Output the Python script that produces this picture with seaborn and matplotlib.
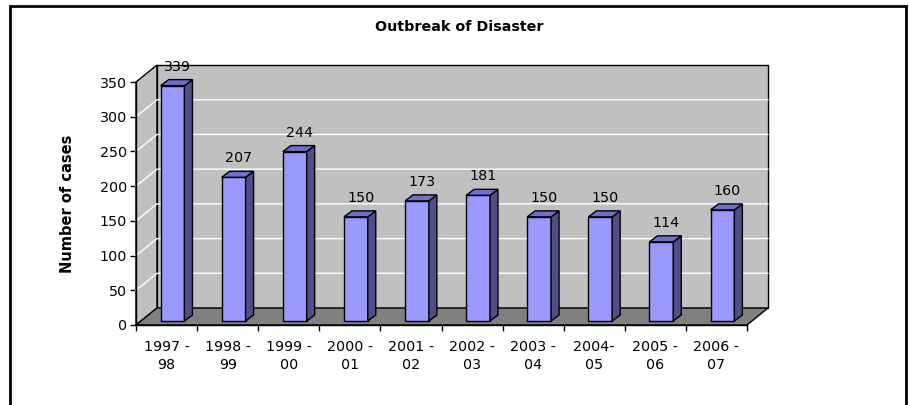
import numpy as np
import pandas as pd
import matplotlib
matplotlib.use("Agg")
import matplotlib.pyplot as plt
import matplotlib.transforms as mtransforms
from matplotlib.patches import Polygon, Rectangle
import seaborn as sns

# ---- data ----
periods = ["1997 -\n98", "1998 -\n99", "1999 -\n00", "2000 -\n01", "2001 -\n02",
           "2002 -\n03", "2003 -\n04", "2004-\n05", "2005 -\n06", "2006 -\n07"]
cases = [339, 207, 244, 150, 173, 181, 150, 150, 114, 160]
yticks = [0, 50, 100, 150, 200, 250, 300, 350]
title = "Outbreak of Disaster"
ylabel = "Number of cases"

df = pd.DataFrame({"period": periods, "cases": cases})

sns.set_theme(style="white")
plt.rcParams["font.family"] = ["DejaVu Sans"]
plt.rcParams["text.color"] = "black"
plt.rcParams["axes.labelcolor"] = "black"
plt.rcParams["xtick.color"] = "black"
plt.rcParams["ytick.color"] = "black"

W, H = 909, 405
fig = plt.figure(figsize=(W / 100, H / 100), dpi=100)
fig.patch.set_facecolor("white")

# front plane of the 3-D box, in pixels
L, R, T, B = 136, 747, 82, 325
ax = fig.add_axes([L / W, 1 - B / H, (R - L) / W, (B - T) / H])
ax.patch.set_visible(False)

FRONT = "#9999FF"
TOP = "#6F6FCC"
SIDE = "#4F4F88"
WALL = "#C0C0C0"
FLOOR = "#808080"

sns.barplot(data=df, x="period", y="cases", ax=ax, color=FRONT, saturation=1,
            width=0.39, edgecolor="black", linewidth=1, zorder=3)
ax.set_xlim(-0.5, len(periods) - 0.5)
ax.set_ylim(0, yticks[-1])

ident = mtransforms.IdentityTransform()

# depth offsets (display pixels)
FX, FY = 21, 17      # full depth of the box
BX, BY = 6, 4        # bar front face offset
DX, DY = 8, 6        # bar depth


def P(x, y, ox=0, oy=0):
    p = ax.transData.transform((x, y))
    return (p[0] + ox, p[1] + oy)


x0, x1 = ax.get_xlim()
y0, y1 = ax.get_ylim()

# side wall
ax.add_patch(Polygon([P(x0, y0), P(x0, y1), P(x0, y1, FX, FY), P(x0, y0, FX, FY)],
                     closed=True, facecolor=WALL, edgecolor="black", lw=1,
                     transform=ident, clip_on=False, zorder=0.5))
# back wall
ax.add_patch(Polygon([P(x0, y0, FX, FY), P(x0, y1, FX, FY), P(x1, y1, FX, FY), P(x1, y0, FX, FY)],
                     closed=True, facecolor=WALL, edgecolor="black", lw=1,
                     transform=ident, clip_on=False, zorder=0.5))
# gridlines
for v in yticks[1:-1]:
    a, b = P(x0, v), P(x0, v, FX, FY)
    c = P(x1, v, FX, FY)
    ax.add_line(plt.Line2D([a[0], b[0], c[0]], [a[1], b[1], c[1]], color="white",
                           lw=1, transform=ident, clip_on=False, zorder=0.6))
# floor
ax.add_patch(Polygon([P(x0, y0), P(x1, y0), P(x1, y0, FX, FY), P(x0, y0, FX, FY)],
                     closed=True, facecolor=FLOOR, edgecolor="black", lw=1,
                     transform=ident, clip_on=False, zorder=0.7))

bars = [p for p in ax.patches if isinstance(p, Rectangle)]
shift = ax.transData + mtransforms.Affine2D().translate(BX, BY)
for bar, val in zip(bars, cases):
    bar.set_transform(shift)
    bar.set_clip_on(False)
    bx, w, h = bar.get_x(), bar.get_width(), bar.get_height()
    side = [P(bx + w, 0, BX, BY), P(bx + w, h, BX, BY),
            P(bx + w, h, BX + DX, BY + DY), P(bx + w, 0, BX + DX, BY + DY)]
    top = [P(bx, h, BX, BY), P(bx + w, h, BX, BY),
           P(bx + w, h, BX + DX, BY + DY), P(bx, h, BX + DX, BY + DY)]
    ax.add_patch(Polygon(side, closed=True, facecolor=SIDE, edgecolor="black", lw=1,
                         transform=ident, clip_on=False, zorder=3))
    ax.add_patch(Polygon(top, closed=True, facecolor=TOP, edgecolor="black", lw=1,
                         transform=ident, clip_on=False, zorder=3))
    tx, ty = P(bx + w / 2, h, BX + 5, BY + 12)
    ax.text(tx, ty, f"{val}", transform=ident, ha="center", va="bottom",
            fontsize=10.3, color="black", zorder=5, clip_on=False)

# axes styling
for s in ["top", "right"]:
    ax.spines[s].set_visible(False)
for s in ["left", "bottom"]:
    ax.spines[s].set_visible(True)
    ax.spines[s].set_color("black")
    ax.spines[s].set_linewidth(1)
    ax.spines[s].set_zorder(4)

ax.set_yticks(yticks)
ax.set_yticklabels([str(v) for v in yticks])
ax.tick_params(axis="y", which="major", direction="out", length=4.5, width=1,
               color="black", pad=2, labelsize=10.3, labelcolor="black", left=True)
ax.set_xticks(range(len(periods)))
ax.set_xticklabels(periods, linespacing=1.3)
ax.set_xticks(np.arange(-0.5, len(periods), 1), minor=True)
ax.tick_params(axis="x", which="major", length=0, pad=11, labelsize=10.3, labelcolor="black")
ax.tick_params(axis="x", which="minor", direction="out", length=4, width=1,
               color="black", bottom=True)
ax.set_xlabel("")
ax.set_ylabel(ylabel, fontsize=10.5, fontweight="bold", va="center", color="black")
ax.yaxis.set_label_coords((67 - L) / (R - L), 0.5)

fig.text(459 / W, 1 - 27 / H, title, ha="center", va="center",
         fontsize=10.3, fontweight="bold", color="black")

# outer chart border
fig.add_artist(Rectangle((10 / W, -0.05), (906 - 10) / W, (1 - 6 / H) + 0.05,
                         transform=fig.transFigure, fill=False, edgecolor="black", lw=2))

fig.savefig("out.png", dpi=100)
